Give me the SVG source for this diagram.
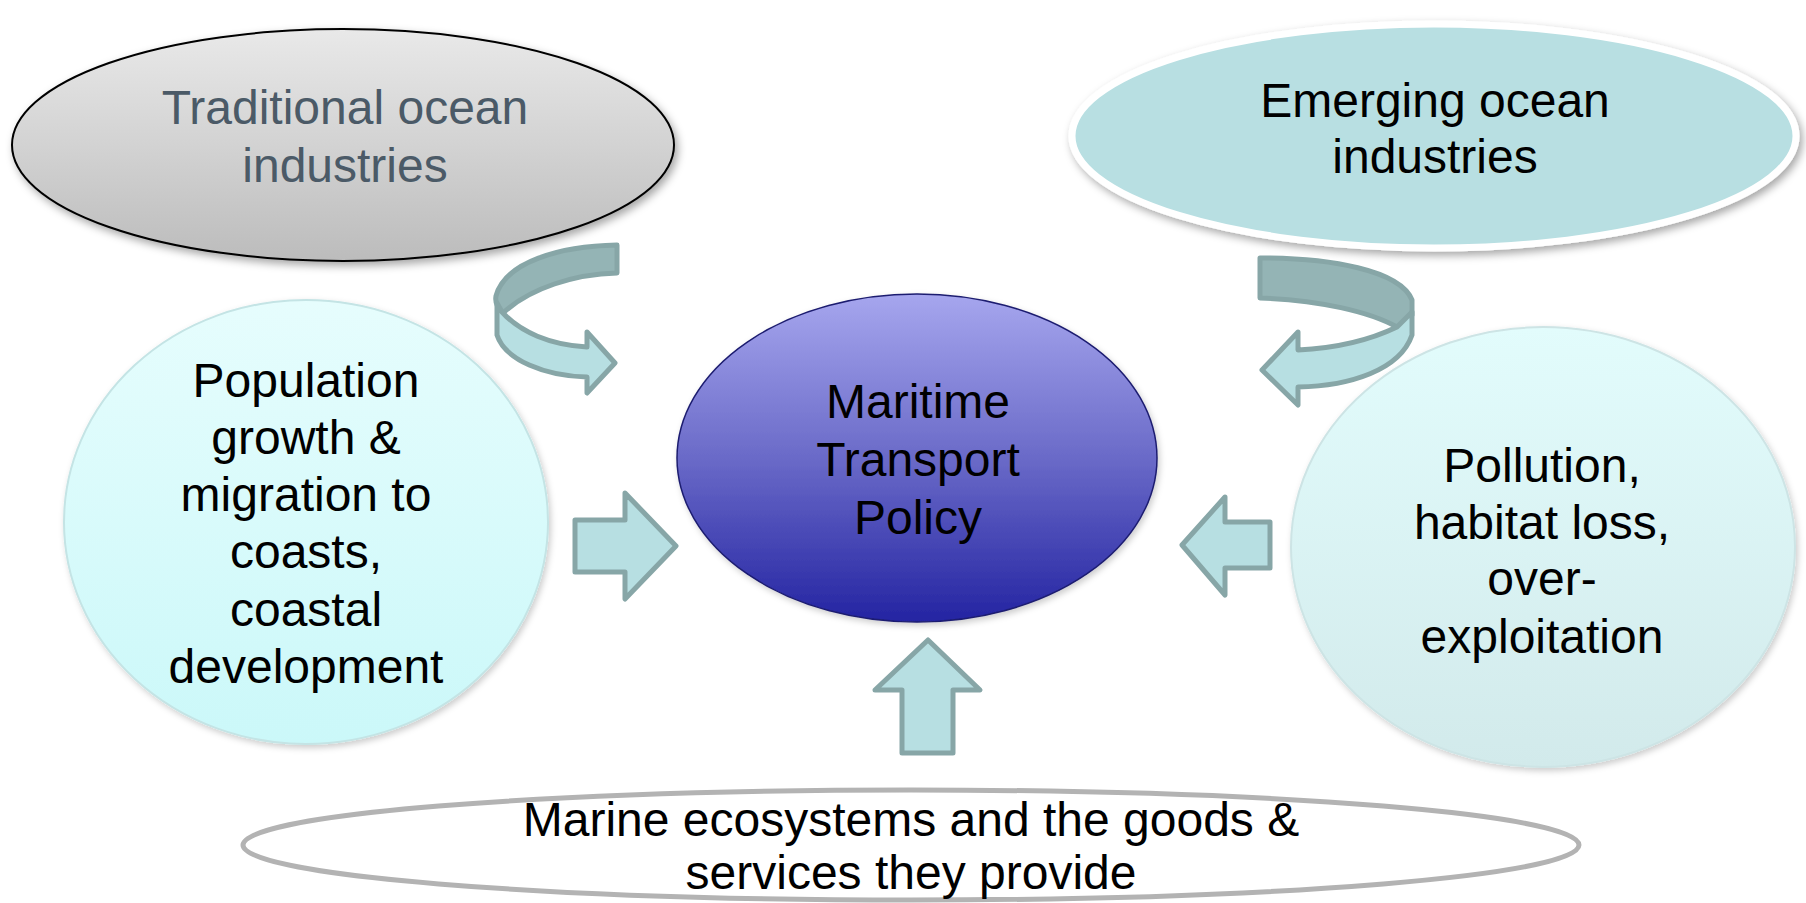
<svg xmlns="http://www.w3.org/2000/svg" width="1806" height="903" viewBox="0 0 1806 903">
  <defs>
    <linearGradient id="gGrey" x1="0" y1="0" x2="0" y2="1">
      <stop offset="0" stop-color="#e9e9e9"/>
      <stop offset="1" stop-color="#bcbcbc"/>
    </linearGradient>
    <linearGradient id="gBlue" x1="0" y1="0" x2="0" y2="1">
      <stop offset="0" stop-color="#a6a6ee"/>
      <stop offset="0.5" stop-color="#6a6ac8"/>
      <stop offset="1" stop-color="#2424a2"/>
    </linearGradient>
    <linearGradient id="gCyanL" x1="0" y1="0" x2="0" y2="1">
      <stop offset="0" stop-color="#e6fdfd"/>
      <stop offset="1" stop-color="#cbf8f9"/>
    </linearGradient>
    <linearGradient id="gCyanR" x1="0" y1="0" x2="0" y2="1">
      <stop offset="0" stop-color="#e2fcfc"/>
      <stop offset="1" stop-color="#d2eaeb"/>
    </linearGradient>
    <filter id="shadow" x="-10%" y="-10%" width="125%" height="130%">
      <feDropShadow dx="3" dy="4" stdDeviation="4" flood-color="#000" flood-opacity="0.35"/>
    </filter>
    <filter id="softShadow" x="-10%" y="-10%" width="125%" height="130%">
      <feDropShadow dx="2" dy="3" stdDeviation="3" flood-color="#000" flood-opacity="0.2"/>
    </filter>
  </defs>
  <style>
    text { font-family: "Liberation Sans", Arial, sans-serif; font-size: 48px; text-anchor: middle; fill: #000; }
    .grey { fill: #4b5a67; }
    .arrow { fill: #b7dfe2; stroke: #87a6a7; stroke-width: 5; stroke-linejoin: round; }
    .arrowBack { fill: #94b4b5; stroke: #87a6a7; stroke-width: 5; stroke-linejoin: round; }
  </style>

  <rect width="1806" height="903" fill="#ffffff"/>

  <!-- Traditional ocean industries -->
  <g id="traditional">
    <ellipse cx="343" cy="145" rx="331" ry="116" fill="url(#gGrey)" stroke="#000" stroke-width="2" filter="url(#shadow)"/>
    <text class="grey" x="345" y="124">Traditional ocean</text>
    <text class="grey" x="345" y="182">industries</text>
  </g>

  <!-- Emerging ocean industries -->
  <g id="emerging">
    <ellipse cx="1434" cy="136" rx="362" ry="112" fill="#b8dfe2" stroke="#ffffff" stroke-width="7" filter="url(#shadow)"/>
    <text x="1435" y="117">Emerging ocean</text>
    <text x="1435" y="173">industries</text>
  </g>

  <!-- Population growth -->
  <g id="population">
    <ellipse cx="306" cy="522" rx="242" ry="222" fill="url(#gCyanL)" stroke="#c4e4e5" stroke-width="2" filter="url(#softShadow)"/>
    <text x="306" y="397">Population</text>
    <text x="306" y="454">growth &amp;</text>
    <text x="306" y="511">migration to</text>
    <text x="306" y="568">coasts,</text>
    <text x="306" y="626">coastal</text>
    <text x="306" y="683">development</text>
  </g>

  <!-- Pollution, habitat loss -->
  <g id="pollution">
    <ellipse cx="1543" cy="547" rx="252" ry="220" fill="url(#gCyanR)" stroke="#cde4e5" stroke-width="2" filter="url(#softShadow)"/>
    <text x="1542" y="482">Pollution,</text>
    <text x="1542" y="539">habitat loss,</text>
    <text x="1542" y="595">over-</text>
    <text x="1542" y="653">exploitation</text>
  </g>

  <!-- Maritime Transport Policy -->
  <g id="policy">
    <ellipse cx="917" cy="458" rx="240" ry="164" fill="url(#gBlue)" stroke="#1c1c70" stroke-width="1.5" filter="url(#softShadow)"/>
    <text x="918" y="418">Maritime</text>
    <text x="918" y="476">Transport</text>
    <text x="918" y="534">Policy</text>
  </g>

  <!-- Marine ecosystems -->
  <g id="ecosystems">
    <ellipse cx="911" cy="845" rx="668" ry="55" fill="#ffffff" stroke="#b3b3b3" stroke-width="5"/>
    <text x="911" y="836">Marine ecosystems and the goods &amp;</text>
    <text x="911" y="889">services they provide</text>
  </g>

  <!-- Connectors -->
  <g id="connectors">
    <!-- curved arrow from traditional industries -->
    <path class="arrowBack" d="M617,245 L617,273 C575,274 530,288 503,313 C497,308 495,302 496,296 C505,262 560,246 617,245 Z"/>
    <path class="arrow" d="M502,312 C520,332 550,345 587,347 L587,332 L615,363 L587,393 L587,377 C545,376 505,360 497,335 L497,303 Z"/>
    <!-- curved arrow from emerging industries -->
    <path class="arrowBack" d="M1260,258 C1330,258 1400,270 1412,300 L1412,315 C1408,322 1402,326 1397,327 C1370,312 1320,300 1260,298 Z"/>
    <path class="arrow" d="M1397,327 C1370,340 1340,348 1298,350 L1298,332 L1262,370 L1298,405 L1298,387 C1350,386 1400,370 1412,335 L1412,312 Z"/>
    <!-- straight arrows -->
    <path class="arrow" d="M575,520 L625,520 L625,493 L676,546 L625,599 L625,572 L575,572 Z"/>
    <path class="arrow" d="M1270,522 L1225,522 L1225,497 L1182,545 L1225,595 L1225,568 L1270,568 Z"/>
    <path class="arrow" d="M902,753 L902,690 L875,690 L928,640 L980,690 L953,690 L953,753 Z"/>
  </g>
</svg>
